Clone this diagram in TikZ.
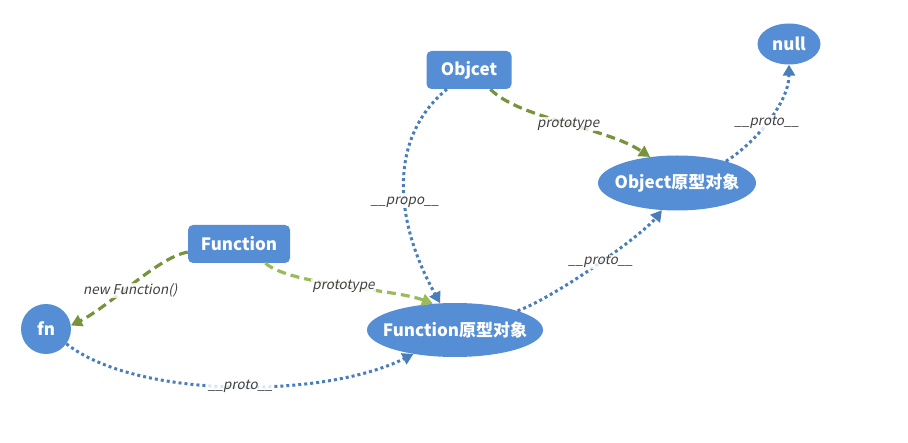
\documentclass[tikz,border=0pt]{standalone}
\usepackage{fontspec}
\setmainfont{Noto Sans CJK SC}
\newfontfamily\lblfont{Noto Sans CJK SC}[FakeSlant=0.2]
\usetikzlibrary{arrows.meta,shapes.geometric}
\definecolor{nodeblue}{HTML}{558ED5}
\definecolor{lineblue}{HTML}{4A7EBB}
\definecolor{dkgreen}{HTML}{77933C}
\definecolor{ltgreen}{HTML}{9BBB59}
\definecolor{lblgray}{HTML}{404040}
\newcommand{\zw}[1]{\makebox[0pt]{#1}}
\tikzset{
  base/.style={fill=nodeblue, text=white, font=\fontsize{17}{19}\selectfont\bfseries, inner sep=0pt},
  boxnode/.style={base, rectangle, rounded corners=5pt},
  ellnode/.style={base, ellipse},
  tip/.style={-{Triangle[width=12pt,length=11pt]}},
  dotline/.style={tip, draw=lineblue, line width=3pt, dash pattern=on 3pt off 3pt},
  dashdk/.style={tip, draw=dkgreen, line width=3.2pt, dash pattern=on 9pt off 5pt},
  dashlt/.style={tip, draw=ltgreen, line width=3.2pt, dash pattern=on 9pt off 5pt},
  lbl/.style={font=\lblfont\fontsize{13.5}{15}\selectfont, text=lblgray, fill=white, fill opacity=0.8, text opacity=1, inner sep=1pt}
}
\begin{document}
\begin{tikzpicture}[x=1pt,y=-1pt]
\useasboundingbox (0,0) rectangle (908,443);
\node[boxnode, minimum width=85pt, minimum height=38pt] (obj) at (469,70) {Objcet};
\node[ellnode, minimum width=63pt, minimum height=41pt] (null) at (789,44) {\zw{null}};
\node[ellnode, minimum width=158pt, minimum height=55pt] (objp) at (677,183) {\zw{Object原型对象}};
\node[boxnode, minimum width=102pt, minimum height=38pt] (func) at (239,244) {Function};
\node[circle, base, minimum size=50pt] (fn) at (46,329) {\zw{fn}};
\node[ellnode, minimum width=176pt, minimum height=54pt] (funcp) at (455,330) {\zw{Function原型对象}};

\draw[dashdk] (obj.-42) .. controls +(30,30) and +(-45,-30) .. node[lbl, pos=0.52] (l1) {prototype} (objp.136);
\draw[dotline] (obj.-139) .. controls +(-55,45) and +(-50,-90) .. node[lbl, pos=0.6] (l2) {\_\_propo\_\_} (funcp.119);
\draw[dotline] (objp.24) .. controls +(25,-15) and +(0,40) .. node[lbl, pos=0.5] (l3) {\_\_proto\_\_} (null.-90);
\draw[dotline] (funcp.17) .. controls +(40,-15) and +(-20,25) .. node[lbl, pos=0.52] (l4) {\_\_proto\_\_} (objp.-119);
\draw[dashdk] (func.189) .. controls +(-30,5) and +(40,-20) .. node[lbl, pos=0.58, xshift=7pt] (l5) {new Function()} (fn.8);
\draw[dashlt] (func.-36) .. controls +(25,22) and +(-40,-15) .. node[lbl, pos=0.5] (l6) {prototype} (funcp.130);
\draw[dotline] (fn.-36) .. controls +(70,55) and +(-90,45) .. node[lbl, pos=0.52] (l7) {\_\_proto\_\_} (funcp.-150);
\end{tikzpicture}
\end{document}
